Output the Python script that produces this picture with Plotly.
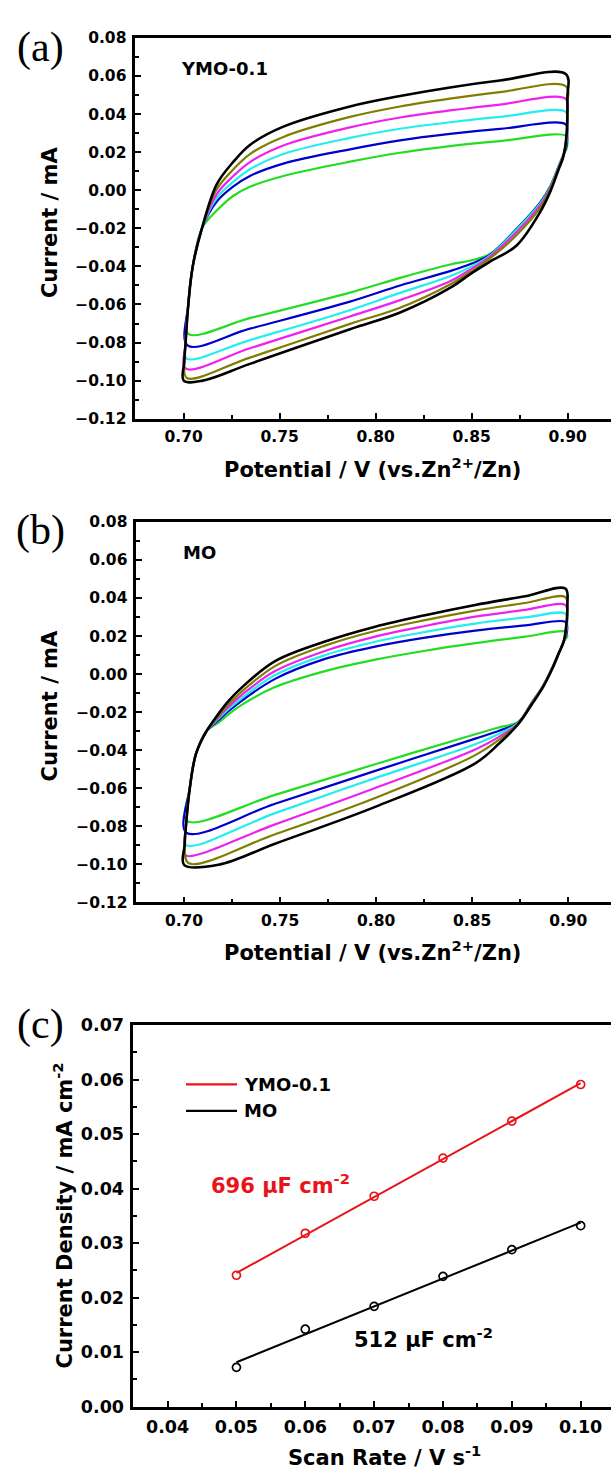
import numpy as np
import plotly.graph_objects as go

W, H = 611, 1483

# ---------------- Panel (a) YMO-0.1 CV data ----------------
CURVE_NAMES = ["10 mV/s", "20 mV/s", "30 mV/s", "40 mV/s", "50 mV/s", "60 mV/s"]
COLORS = ["#22DD22", "#0000CC", "#22EEEE", "#EE22EE", "#807E00", "#000000"]

A_LEFT_E = [0.7003, 0.7010, 0.7024, 0.7047, 0.7095]
A_LEFT_I = [-0.090, -0.080, -0.060, -0.040, -0.020]
A_UP_E = [0.7172, 0.7259, 0.7345, 0.7519, 0.7866, 0.8127, 0.8387, 0.8647, 0.8990]
A_UP_I = [
    [-0.0107, -0.0029, 0.0018, 0.0075, 0.0150, 0.0197, 0.0232, 0.0258, 0.0285],
    [-0.0060, 0.0020, 0.0075, 0.0140, 0.0215, 0.0262, 0.0296, 0.0322, 0.0346],
    [-0.0040, 0.0045, 0.0110, 0.0190, 0.0275, 0.0323, 0.0357, 0.0385, 0.0411],
    [-0.0020, 0.0075, 0.0148, 0.0235, 0.0330, 0.0382, 0.0419, 0.0450, 0.0480],
    [0.0005, 0.0110, 0.0190, 0.0280, 0.0385, 0.0440, 0.0481, 0.0515, 0.0546],
    [0.0031, 0.0150, 0.0238, 0.0334, 0.0440, 0.0495, 0.0540, 0.0576, 0.0610],
]
A_DN_E = [0.8998, 0.8993, 0.8977, 0.8951, 0.8908, 0.8856, 0.8734, 0.8595, 0.8500,
          0.8387, 0.8127, 0.7866, 0.7345]
A_DN_I = [
    [0.0240, 0.0215, 0.0185, 0.0120, 0.0020, -0.0064, -0.0202, -0.0335, -0.0368,
     -0.0390, -0.0460, -0.0538, -0.0672],
    [0.0290, 0.0230, 0.0185, 0.0120, 0.0015, -0.0066, -0.0204, -0.0340, -0.0385,
     -0.0425, -0.0500, -0.0585, -0.0727],
    [0.0340, 0.0250, 0.0185, 0.0118, 0.0012, -0.0070, -0.0207, -0.0343, -0.0400,
     -0.0452, -0.0539, -0.0630, -0.0787],
    [0.0390, 0.0265, 0.0183, 0.0115, 0.0008, -0.0078, -0.0219, -0.0348, -0.0412,
     -0.0478, -0.0577, -0.0663, -0.0830],
    [0.0440, 0.0275, 0.0180, 0.0112, 0.0003, -0.0092, -0.0235, -0.0358, -0.0425,
     -0.0495, -0.0617, -0.0702, -0.0879],
    [0.0480, 0.0280, 0.0175, 0.0105, -0.0010, -0.0115, -0.0290, -0.0375, -0.0435,
     -0.0513, -0.0642, -0.0730, -0.0912],
]
A_END_E = [0.7024, 0.7020, 0.7015, 0.7010, 0.7016, 0.7000]
A_END_I = [-0.0754, -0.0815, -0.0884, -0.0936, -0.0986, -0.1000]
A_CORNER_E = 0.7099

# ---------------- Panel (b) MO CV data ----------------
B_LEFT_E = [0.7003, 0.7010, 0.7030, 0.7062, 0.7117]
B_LEFT_I = [-0.090, -0.080, -0.060, -0.042, -0.030]
B_UP_E = [0.7179, 0.7231, 0.7300, 0.7474, 0.7734, 0.7995, 0.8255, 0.8516, 0.8776, 0.8985]
B_UP_I = [
    [-0.0255, -0.0212, -0.0162, -0.0068, 0.0016, 0.0076, 0.0123, 0.0163, 0.0197, 0.0223],
    [-0.0242, -0.0195, -0.0140, -0.0025, 0.0080, 0.0145, 0.0192, 0.0229, 0.0256, 0.0275],
    [-0.0235, -0.0185, -0.0127, -0.0005, 0.0100, 0.0170, 0.0222, 0.0266, 0.0298, 0.0318],
    [-0.0228, -0.0173, -0.0110, 0.0016, 0.0122, 0.0197, 0.0253, 0.0302, 0.0338, 0.0363],
    [-0.0220, -0.0160, -0.0092, 0.0042, 0.0150, 0.0227, 0.0284, 0.0334, 0.0374, 0.0405],
    [-0.0209, -0.0142, -0.0071, 0.0068, 0.0171, 0.0249, 0.0310, 0.0364, 0.0410, 0.0450],
]
B_DN_E = [0.8995, 0.8990, 0.8976, 0.8950, 0.8915, 0.8870, 0.8810, 0.8741, 0.8640,
          0.8516, 0.7995, 0.7474]
B_DN_I = [
    [0.0200, 0.0190, 0.0171, 0.0110, 0.0030, -0.0060, -0.0150, -0.0250, -0.0280,
     -0.0316, -0.0474, -0.0635],
    [0.0240, 0.0210, 0.0171, 0.0110, 0.0030, -0.0060, -0.0150, -0.0253, -0.0298,
     -0.0339, -0.0509, -0.0682],
    [0.0270, 0.0230, 0.0171, 0.0110, 0.0030, -0.0060, -0.0152, -0.0255, -0.0314,
     -0.0369, -0.0547, -0.0731],
    [0.0300, 0.0245, 0.0171, 0.0110, 0.0030, -0.0060, -0.0153, -0.0258, -0.0330,
     -0.0396, -0.0599, -0.0790],
    [0.0330, 0.0255, 0.0171, 0.0110, 0.0028, -0.0062, -0.0155, -0.0260, -0.0345,
     -0.0426, -0.0651, -0.0842],
    [0.0360, 0.0260, 0.0171, 0.0108, 0.0024, -0.0066, -0.0160, -0.0261, -0.0365,
     -0.0469, -0.0698, -0.0892],
]
B_END_E = [0.7015, 0.7012, 0.7012, 0.7010, 0.7025, 0.7000]
B_END_I = [-0.0772, -0.0833, -0.0899, -0.0954, -0.0995, -0.1003]
B_CORNER_E = 0.7179

# ---------------- Panel (c) scan-rate data ----------------
SCAN_RATE = [0.05, 0.06, 0.07, 0.08, 0.09, 0.10]
J_YMO = [0.0241, 0.0318, 0.0386, 0.0456, 0.0524, 0.0591]
J_MO = [0.0072, 0.0142, 0.0184, 0.0239, 0.0288, 0.0332]
RED = "#E8141A"

FONT = "DejaVu Sans"


def loop(left_E, left_I, up_E, up_I, dn_E, dn_I, end_E, end_I, corner_E=None):
    xs, ys = [end_E], [end_I]
    for e, i in zip(left_E, left_I):
        if i > end_I + 0.004:
            xs.append(e)
            ys.append(i)
    xs += list(up_E)
    ys += list(up_I)
    xs += list(dn_E)
    ys += list(dn_I)
    if corner_E is not None:
        xs.append(corner_E)
        ys.append(end_I)
    xs.append(end_E)
    ys.append(end_I)
    return xs, ys


fig = go.Figure()

for k in range(6):
    xs, ys = loop(A_LEFT_E, A_LEFT_I, A_UP_E, A_UP_I[k], A_DN_E, A_DN_I[k],
                  A_END_E[k], A_END_I[k], A_CORNER_E if k == 5 else None)
    fig.add_trace(go.Scatter(x=xs, y=ys, mode="lines", name=CURVE_NAMES[k],
                             line=dict(color=COLORS[k], width=2.2 if k < 5 else 2.6,
                                       shape="spline", smoothing=1.0),
                             xaxis="x", yaxis="y", showlegend=False))
for k in range(6):
    xs, ys = loop(B_LEFT_E, B_LEFT_I, B_UP_E, B_UP_I[k], B_DN_E, B_DN_I[k],
                  B_END_E[k], B_END_I[k], B_CORNER_E if k == 5 else None)
    fig.add_trace(go.Scatter(x=xs, y=ys, mode="lines", name=CURVE_NAMES[k],
                             line=dict(color=COLORS[k], width=2.2 if k < 5 else 2.6,
                                       shape="spline", smoothing=1.0),
                             xaxis="x2", yaxis="y2", showlegend=False))

# panel c: linear fits + measured points
sr = np.array(SCAN_RATE)
for data, col, nm in [(J_YMO, RED, "YMO-0.1"), (J_MO, "#000000", "MO")]:
    m, b = np.polyfit(sr, np.array(data), 1)
    fig.add_trace(go.Scatter(x=[sr[0], sr[-1]], y=[m * sr[0] + b, m * sr[-1] + b],
                             mode="lines", line=dict(color=col, width=2),
                             xaxis="x3", yaxis="y3", showlegend=False, name=nm + " fit"))
    fig.add_trace(go.Scatter(x=SCAN_RATE, y=data, mode="markers", name=nm,
                             marker=dict(symbol="circle-open", size=8, color=col,
                                         line=dict(width=1.7, color=col)),
                             xaxis="x3", yaxis="y3", showlegend=False))


def py(p):
    return 1 - p / H


def px(p):
    return p / W


AX = dict(showline=True, linecolor="black", linewidth=2.5, ticks="inside",
          ticklen=6, tickwidth=2, tickcolor="black", showgrid=False, zeroline=False)

tf_ab = dict(family=FONT, size=15.5, color="black", weight="bold")
tf_c = dict(family=FONT, size=17.5, color="black", weight="bold")
MINOR = dict(ticks="inside", ticklen=3.5, tickwidth=2, tickcolor="black")

fig.update_layout(
    width=W, height=H, margin=dict(l=0, r=0, t=0, b=0),
    plot_bgcolor="white", paper_bgcolor="white", showlegend=False,
    xaxis=dict(**AX, domain=[px(135.3), 1], range=[0.67479, 0.92255], mirror=True,
               tickvals=[0.70, 0.75, 0.80, 0.85, 0.90], tickformat=".2f", tickfont=tf_ab,
               minor=dict(**MINOR, dtick=0.025, tick0=0.675), ticklabelstandoff=2,
               anchor="y"),
    yaxis=dict(**AX, domain=[py(414.3), py(28.3)], range=[-0.12, 0.08],
               dtick=0.02, tick0=0, tickformat=".2f", tickfont=tf_ab,
               minor=dict(**MINOR, dtick=0.01), ticklabelstandoff=3,
               anchor="x"),
    xaxis2=dict(**AX, domain=[px(136.3), 1], range=[0.67516, 0.92224], mirror=True,
                tickvals=[0.70, 0.75, 0.80, 0.85, 0.90], tickformat=".2f", tickfont=tf_ab,
                minor=dict(**MINOR, dtick=0.025, tick0=0.675), ticklabelstandoff=2,
                anchor="y2"),
    yaxis2=dict(**AX, domain=[py(904.5), py(519)], range=[-0.12, 0.08],
                dtick=0.02, tick0=0, tickformat=".2f", tickfont=tf_ab,
                minor=dict(**MINOR, dtick=0.01), ticklabelstandoff=3,
                anchor="x2"),
    xaxis3=dict(**AX, domain=[px(133.3), 1], range=[0.03502, 0.1044], mirror=True,
                dtick=0.01, tick0=0, tickformat=".2f", tickfont=tf_c,
                minor=dict(**MINOR, dtick=0.005), ticklabelstandoff=3,
                anchor="y3"),
    yaxis3=dict(**AX, domain=[py(1415.7), py(1029)], range=[0, 0.07],
                dtick=0.01, tick0=0, tickformat=".2f", tickfont=tf_c,
                minor=dict(**MINOR, dtick=0.005), ticklabelstandoff=3,
                anchor="x3"),
)

ann = []


def text(x, y, s, size, xanchor="center", color="black", angle=0, family=FONT, bold=True):
    ann.append(dict(x=px(x), y=py(y), xref="paper", yref="paper", text=s, showarrow=False,
                    xanchor=xanchor, yanchor="middle", textangle=angle,
                    font=dict(family=family, size=size, color=color,
                              weight="bold" if bold else "normal")))


# panel labels
for lab, yy in [("(a)", 38), ("(b)", 528), ("(c)", 1028)]:
    text(40, yy, lab, 42, family="Liberation Serif", bold=False)

# panel a
text(50, 216, "Current / mA", 21, angle=-90)
text(372, 464, "Potential / V (vs.Zn<sup>2+</sup>/Zn)", 21)
text(179.3, 59, "YMO-0.1", 18, xanchor="left")
# panel b
text(50, 706, "Current / mA", 21, angle=-90)
text(372, 954, "Potential / V (vs.Zn<sup>2+</sup>/Zn)", 21)
text(180.5, 550, "MO", 18, xanchor="left")
# panel c
text(63, 1222, "Current Density / mA cm<sup>-2</sup>", 21, angle=-90)
text(384, 1466, "Scan Rate / V s<sup>-1</sup>", 21)
text(209, 1190, "696 µF cm<sup>-2</sup>", 21, xanchor="left", color=RED)
text(352, 1346, "512 µF cm<sup>-2</sup>", 21, xanchor="left")
text(242, 1089, "YMO-0.1", 18, xanchor="left")
text(242, 1116, "MO", 18, xanchor="left")

fig.update_layout(annotations=ann)

shapes = [
    dict(type="line", xref="paper", yref="paper", x0=px(186), x1=px(237), y0=py(1089), y1=py(1089),
         line=dict(color=RED, width=2.2)),
    dict(type="line", xref="paper", yref="paper", x0=px(186), x1=px(237), y0=py(1116), y1=py(1116),
         line=dict(color="black", width=2.2)),
]
fig.update_layout(shapes=shapes)

fig.write_html("out.html")
